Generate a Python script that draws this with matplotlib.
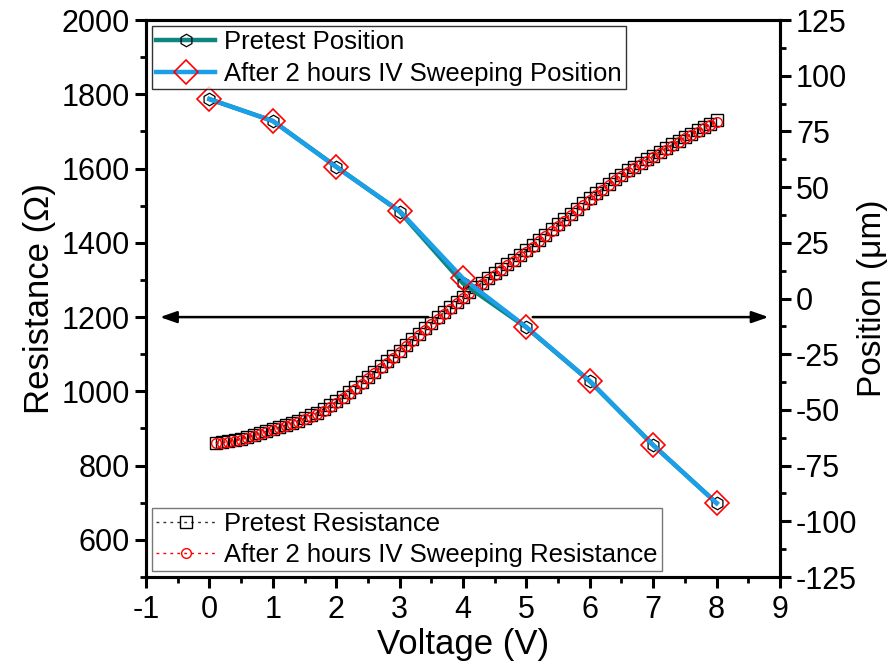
import matplotlib
matplotlib.use("Agg")
import matplotlib.pyplot as plt
from matplotlib.ticker import MultipleLocator

plt.rcParams["font.family"] = ["Liberation Sans", "DejaVu Sans"]
plt.rcParams["axes.unicode_minus"] = False

# sweep voltages (V)
sweep_v = [0.1, 0.2, 0.3, 0.4, 0.5, 0.6, 0.7, 0.8, 0.9, 1.0,
           1.1, 1.2, 1.3, 1.4, 1.5, 1.6, 1.7, 1.8, 1.9, 2.0,
           2.1, 2.2, 2.3, 2.4, 2.5, 2.6, 2.7, 2.8, 2.9, 3.0,
           3.1, 3.2, 3.3, 3.4, 3.5, 3.6, 3.7, 3.8, 3.9, 4.0,
           4.1, 4.2, 4.3, 4.4, 4.5, 4.6, 4.7, 4.8, 4.9, 5.0,
           5.1, 5.2, 5.3, 5.4, 5.5, 5.6, 5.7, 5.8, 5.9, 6.0,
           6.1, 6.2, 6.3, 6.4, 6.5, 6.6, 6.7, 6.8, 6.9, 7.0,
           7.1, 7.2, 7.3, 7.4, 7.5, 7.6, 7.7, 7.8, 7.9, 8.0]

pretest_res = [862, 863, 865, 869, 873, 878, 883, 888, 893, 898,
               904, 909, 915, 921, 928, 935, 943, 952, 962, 973,
               985, 998, 1011, 1025, 1039, 1053, 1067, 1081, 1095, 1110,
               1125, 1140, 1155, 1170, 1185, 1199, 1213, 1227, 1241, 1255,
               1268, 1281, 1293, 1306, 1318, 1330, 1343, 1355, 1368, 1380,
               1394, 1408, 1422, 1436, 1450, 1464, 1478, 1492, 1506, 1520,
               1533, 1546, 1559, 1572, 1584, 1595, 1605, 1615, 1625, 1635,
               1645, 1655, 1665, 1675, 1685, 1694, 1703, 1712, 1721, 1730]

after_res = [860, 861, 863, 866, 870, 875, 880, 885, 890, 895,
             901, 906, 912, 918, 925, 932, 940, 948, 958, 969,
             981, 994, 1007, 1021, 1035, 1049, 1063, 1077, 1091, 1106,
             1121, 1136, 1151, 1166, 1181, 1195, 1209, 1223, 1237, 1251,
             1264, 1277, 1289, 1302, 1314, 1326, 1339, 1351, 1364, 1376,
             1390, 1404, 1418, 1432, 1446, 1460, 1474, 1488, 1502, 1516,
             1529, 1542, 1555, 1568, 1580, 1591, 1601, 1611, 1621, 1631,
             1641, 1651, 1661, 1671, 1681, 1690, 1699, 1708, 1717, 1726]

pos_v = [0, 1, 2, 3, 4, 5, 6, 7, 8]
pretest_pos = [89.5, 79.7, 59.2, 39.0, 6.8, -13.0, -37.2, -65.8, -91.8]
after_pos = [89.5, 79.7, 59.0, 39.3, 9.0, -12.8, -37.0, -65.8, -91.8]

TEAL = "#0F8580"
BLUE = "#1A9FE8"

fig = plt.figure(figsize=(8.96, 6.68), dpi=100)
ax = fig.add_axes([0.163, 0.1362, 0.7075, 0.8338])
ax2 = ax.twinx()

# resistance (left axis)
ax.plot(sweep_v, pretest_res, linestyle=(0, (2, 3)), color="#333333", lw=1.0,
        marker="s", ms=8.5, mfc="none", mec="black", mew=1.0,
        label="Pretest Resistance")
ax.plot(sweep_v, after_res, linestyle=(0, (2, 3)), color="red", lw=1.0,
        marker="o", ms=7, mfc="none", mec="red", mew=1.0,
        label="After 2 hours IV Sweeping Resistance")

# position (right axis)
ax2.plot(pos_v, pretest_pos, color=TEAL, lw=3.2,
         marker="h", ms=9, mfc="none", mec="black", mew=0.9,
         label="Pretest Position")
ax2.plot(pos_v, after_pos, color=BLUE, lw=3.2,
         marker="D", ms=12, mfc="none", mec="red", mew=1.2,
         label="After 2 hours IV Sweeping Position")

# arrows pointing to the respective axes
arrow_kw = dict(arrowstyle="-|>,head_length=1.0,head_width=0.35", color="black", lw=1.8,
                shrinkA=0, shrinkB=0)
ax.annotate("", xy=(-0.78, 1200), xytext=(3.45, 1200), arrowprops=arrow_kw)
ax.annotate("", xy=(8.82, 1200), xytext=(5.1, 1200), arrowprops=arrow_kw)

ax.set_xlim(-1, 9)
ax.set_ylim(500, 2000)
ax2.set_ylim(-125, 125)

ax.xaxis.set_major_locator(MultipleLocator(1))
ax.xaxis.set_minor_locator(MultipleLocator(0.5))
ax.yaxis.set_minor_locator(MultipleLocator(100))
ax2.yaxis.set_major_locator(MultipleLocator(25))
ax2.yaxis.set_minor_locator(MultipleLocator(12.5))
ax.set_yticks([600, 800, 1000, 1200, 1400, 1600, 1800, 2000])

for a in (ax, ax2):
    for s in a.spines.values():
        s.set_linewidth(2.2)
    a.tick_params(which="major", direction="out", length=8, width=2.2, labelsize=22)
    a.tick_params(which="minor", direction="out", length=4.5, width=2.0)

ax.tick_params(axis="x", pad=5)
ax.set_xlabel("Voltage (V)", fontsize=25, labelpad=2)
ax.set_ylabel("Resistance (\u03a9)", fontsize=25, labelpad=4)
ax2.set_ylabel("Position (\u03bcm)", fontsize=24, labelpad=0)

leg1 = ax2.legend(loc="upper left", fontsize=18.5, frameon=True, fancybox=False,
                  edgecolor="black", borderaxespad=0.25, borderpad=0.15,
                  handlelength=2.3, handletextpad=0.35, labelspacing=0.28)
leg1.get_frame().set_linewidth(1.0)
leg2 = ax.legend(loc="lower left", fontsize=18.5, frameon=True, fancybox=False,
                 edgecolor="#555555", borderaxespad=0.25, borderpad=0.15,
                 handlelength=2.3, handletextpad=0.35, labelspacing=0.28)
leg2.get_frame().set_linewidth(1.0)

fig.savefig("out.png", dpi=100)
